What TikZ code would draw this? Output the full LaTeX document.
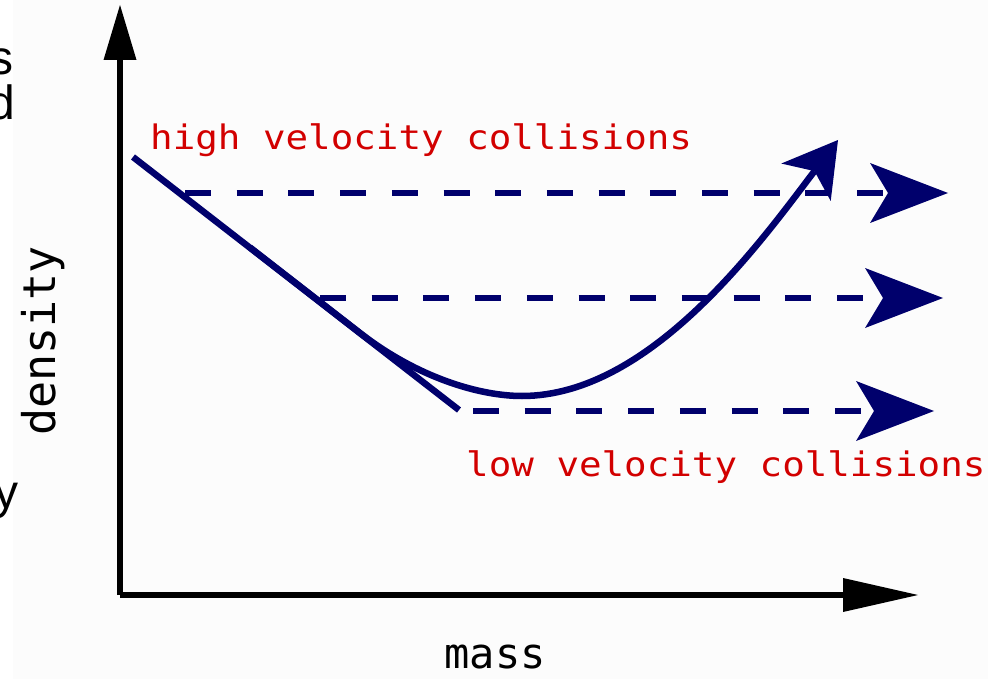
\documentclass[tikz,border=0pt]{standalone}
\usepackage{fontspec}
\usepackage{graphicx}
\usetikzlibrary{arrows.meta}
\newfontfamily\monof{DejaVu Sans Mono}
\newfontfamily\sansf{Liberation Sans}
\definecolor{navy}{RGB}{0,0,108}
\definecolor{redtxt}{RGB}{210,0,0}
\definecolor{bggray}{RGB}{252,252,252}
\tikzset{
  curveline/.style={draw=navy, line width=6.5pt},
  dashline/.style={draw=navy, line width=6.3pt, dash pattern=on 26pt off 25.7pt,
    -{Stealth[length=78pt, width=60pt, inset=18pt, line width=0pt]}},
  axisline/.style={draw=black, line width=6.5pt},
  redlabel/.style={inner sep=0pt, text=redtxt, font=\monof\fontsize{37.5}{40}\selectfont},
  axislabel/.style={inner sep=0pt, text=black},
  fragment/.style={inner sep=0pt, text=black, font=\sansf\fontsize{48}{50}\selectfont},
}
\begin{document}
\begin{tikzpicture}[x=1pt, y=-1pt]
\useasboundingbox (0,0) rectangle (988,679);
\fill[white] (0,0) rectangle (988,679);
\fill[bggray] (13,0) rectangle (988,679);

% left edge fragments
\node[fragment, anchor=base east] (fs) at (14,75) {s};
\node[fragment, anchor=base east] (fd) at (15,120) {d};
\node[fragment, anchor=base east] (fy) at (19,508) {y};

% axes
\coordinate (O) at (120,595);
\coordinate (ytip) at (120,5);
\coordinate (xtip) at (918,595);
\draw[axisline, -{Triangle[length=55pt, width=33pt, line width=0pt]}] (O) -- (ytip);
\draw[axisline, -{Triangle[length=75pt, width=34pt, line width=0pt]}] (O) -- (xtip);

% axis labels
\node[axislabel, anchor=base, font=\monof\fontsize{42}{44}\selectfont] (mass) at (495,668) {mass};
\node[axislabel, anchor=base, rotate=90, font=\monof\fontsize{45}{47}\selectfont] (density) at (55,341) {density};

% straight line
\coordinate (L1) at (133,157);
\coordinate (L2) at (459,410);
\draw[curveline] (L1) -- (L2);

% curve
\coordinate (C0) at (250,247.5);
\coordinate (C1) at (360,333);
\coordinate (Cmin) at (522,396);
\coordinate (Ctip) at (838,140);
\draw[curveline, -{Stealth[length=53pt, width=62pt, inset=14pt, line width=0pt]}]
  (C0) -- (C1) .. controls (418,378) and (480,396) .. (Cmin)
  .. controls (650,396) and (760,243) .. (Ctip);

% dashed arrows
\coordinate (d1s) at (185,193);
\coordinate (d1e) at (948,193);
\coordinate (d2s) at (320,298);
\coordinate (d2e) at (943,298);
\coordinate (d3s) at (473,411);
\coordinate (d3e) at (934,411);
\draw[dashline] (d1s) -- (d1e);
\draw[dashline] (d2s) -- (d2e);
\draw[dashline] (d3s) -- (d3e);

% red labels
\node[redlabel, anchor=base west] (high) at (150,150) {\scalebox{1}[0.9]{high velocity collisions}};
\node[redlabel, anchor=base west] (low) at (466,476) {\scalebox{1}[0.9]{low velocity collisions}};
\end{tikzpicture}
\end{document}
